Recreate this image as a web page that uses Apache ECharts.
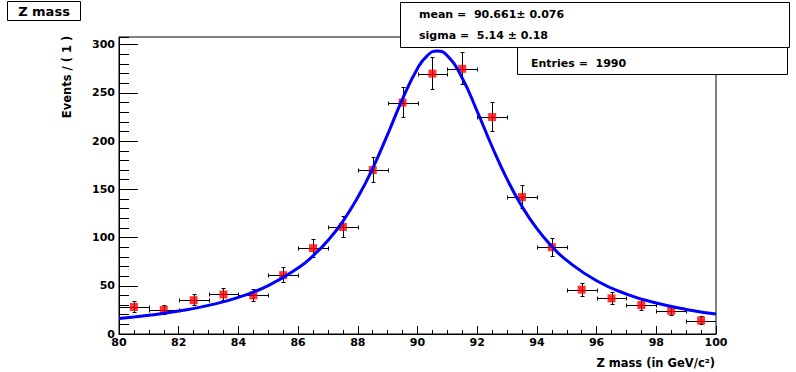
<!DOCTYPE html>
<html>
<head>
<meta charset="utf-8">
<script src="https://cdn.jsdelivr.net/npm/echarts@6/dist/echarts.min.js"></script>
<style>
html,body{margin:0;padding:0;background:#fff;}
#c{width:796px;height:372px;}
</style>
</head>
<body>
<div id="c"></div>
<script>
// ---- data ----
const binCenters = [80.5,81.5,82.5,83.5,84.5,85.5,86.5,87.5,88.5,89.5,90.5,91.5,92.5,93.5,94.5,95.5,96.5,97.5,98.5,99.5];
const counts     = [28,25,35,41,40,61,89,111,170,240,270,275,225,142,90,46,37,30,24,14];
const errHigh    = [5.8,5.5,6.4,6.9,6.8,8.3,9.9,11.0,13.5,16.0,16.9,17.1,15.5,12.4,10.0,7.3,6.6,6.0,5.4,4.3];
const errLow     = [4.8,4.5,5.4,5.9,5.8,7.3,8.9,10.0,12.5,15.0,15.9,16.1,14.5,11.4,9.0,6.3,5.6,5.0,4.4,3.3];
const binHalfWidth = 0.5;

const curveX = [80,81,82,83,84,85,86,86.5,87,87.5,88,88.5,89,89.5,90,90.33,90.66,91,91.5,92,92.5,93,93.5,94,94.5,95,96,97,98,99,100];
const curveY = [16.1,19.4,23.8,29.7,38.0,50.2,68.5,81.1,96.9,116.9,141.7,171.9,207.1,243.9,275.4,288.8,293.6,288.6,265.3,230.9,194.2,160.6,132.2,109.2,90.9,76.3,55.2,41.4,32.1,25.5,20.7];

const titleText   = 'Z mass';
const statsLines  = ['mean =  90.661\u00b1 0.076', 'sigma =  5.14 \u00b1 0.18'];
const entriesText = 'Entries =  1990';
const xTitle      = 'Z mass (in GeV/c\u00b2)';
const yTitle      = 'Events / ( 1 )';

const xMin = 80, xMax = 100, xInterval = 2;
const yMin = 0, yMax = 308, yInterval = 50, yMinorInterval = 10;

// ---- chart ----
const FONT = '"DejaVu Sans", Verdana, sans-serif';
const chart = echarts.init(document.getElementById('c'), null, {renderer: 'svg'});

const labelStyle = {color: '#000', fontFamily: FONT, fontWeight: 'bold', fontSize: 11};

const option = {
  animation: false,
  backgroundColor: '#fff',
  grid: {left: 119, right: 80, top: 37, bottom: 38, show: true, borderColor: '#000', borderWidth: 1, backgroundColor: 'transparent'},
  xAxis: {
    type: 'value', min: xMin, max: xMax, interval: xInterval,
    axisLine: {show: true, lineStyle: {color: '#000', width: 1}},
    axisTick: {show: true, inside: true, length: 8, lineStyle: {color: '#000'}},
    minorTick: {show: true, splitNumber: 4, length: 4, lineStyle: {color: '#000'}},
    splitLine: {show: false},
    axisLabel: Object.assign({margin: 3}, labelStyle)
  },
  yAxis: [{
    type: 'value', min: yMin, max: yMax, interval: yInterval,
    axisLine: {show: true, lineStyle: {color: '#000', width: 1}},
    axisTick: {show: true, inside: true, length: 19, lineStyle: {color: '#000'}},
    splitLine: {show: false},
    axisLabel: Object.assign({margin: 4, showMaxLabel: false,
      formatter: v => (v % yInterval === 0 ? String(v) : '')}, labelStyle)
  }, {
    type: 'value', min: yMin, max: yMax, interval: yMinorInterval, position: 'left',
    axisLine: {show: false},
    axisTick: {show: true, inside: true, length: 10, lineStyle: {color: '#000'}},
    splitLine: {show: false},
    axisLabel: {show: false}
  }],
  series: [{
    type: 'custom',
    z: 2,
    clip: true,
    encode: {x: 0, y: 1},
    data: binCenters.map((x, i) => [x, counts[i], errLow[i], errHigh[i]]),
    renderItem: function (params, api) {
      const x = api.value(0), y = api.value(1), lo = api.value(2), hi = api.value(3);
      const r = v => Math.round(v) + 0.5;
      const pL = api.coord([x - binHalfWidth, y]);
      const pR = api.coord([x + binHalfWidth, y]);
      const pT = api.coord([x, y + hi]);
      const pB = api.coord([x, y - lo]);
      const cx = r(pT[0]), cy = r(pL[1]);
      const c = 2;
      const st = {stroke: '#000', lineWidth: 1, fill: null};
      const L = (x1, y1, x2, y2) => ({type: 'line', shape: {x1, y1, x2, y2}, style: st});
      return {type: 'group', children: [
        L(Math.round(pL[0]), cy, Math.round(pR[0]), cy),
        L(r(pL[0]), cy - c, r(pL[0]), cy + c),
        L(r(pR[0]), cy - c, r(pR[0]), cy + c),
        L(cx, Math.round(pT[1]), cx, Math.round(pB[1])),
        L(cx - c, r(pT[1]), cx + c, r(pT[1])),
        L(cx - c, r(pB[1]), cx + c, r(pB[1]))
      ]};
    }
  }, {
    type: 'scatter',
    z: 3,
    symbol: 'rect',
    symbolSize: 8,
    itemStyle: {color: '#ff0000'},
    data: binCenters.map((x, i) => [x, counts[i]])
  }, {
    type: 'line',
    z: 4,
    smooth: true,
    showSymbol: false,
    clip: true,
    lineStyle: {color: '#0000ff', width: 3},
    data: curveX.map((x, i) => [x, curveY[i]])
  }],
  graphic: [
    {type: 'rect', z: 100, shape: {x: 7.5, y: 1.5, width: 73, height: 19}, style: {fill: '#fff', stroke: '#000', lineWidth: 1}},
    {type: 'text', z: 101, x: 44, y: 11.5, style: {text: titleText, fontFamily: FONT, fontWeight: 'bold', fontSize: 13, fill: '#000', align: 'center', verticalAlign: 'middle'}},
    {type: 'rect', z: 100, shape: {x: 400.5, y: 2.5, width: 389, height: 45}, style: {fill: '#fff', stroke: '#000', lineWidth: 1}},
    {type: 'text', z: 101, x: 419, y: 14.5, style: {text: statsLines[0], fontFamily: FONT, fontWeight: 'bold', fontSize: 11, fill: '#000', align: 'left', verticalAlign: 'middle'}},
    {type: 'text', z: 101, x: 419, y: 35, style: {text: statsLines[1], fontFamily: FONT, fontWeight: 'bold', fontSize: 11, fill: '#000', align: 'left', verticalAlign: 'middle'}},
    {type: 'rect', z: 100, shape: {x: 517.5, y: 47.5, width: 270, height: 27}, style: {fill: '#fff', stroke: '#000', lineWidth: 1}},
    {type: 'text', z: 101, x: 531, y: 63, style: {text: entriesText, fontFamily: FONT, fontWeight: 'bold', fontSize: 11, fill: '#000', align: 'left', verticalAlign: 'middle'}},
    {type: 'text', z: 101, x: 715, y: 363, style: {text: xTitle, fontFamily: FONT, fontWeight: 'bold', fontSize: 11.5, fill: '#000', align: 'right', verticalAlign: 'middle'}},
    {type: 'text', z: 101, x: 67, y: 77, rotation: Math.PI / 2, style: {text: yTitle, fontFamily: FONT, fontWeight: 'bold', fontSize: 11.5, fill: '#000', align: 'center', verticalAlign: 'middle'}}
  ]
};
chart.setOption(option);
</script>
</body>
</html>
